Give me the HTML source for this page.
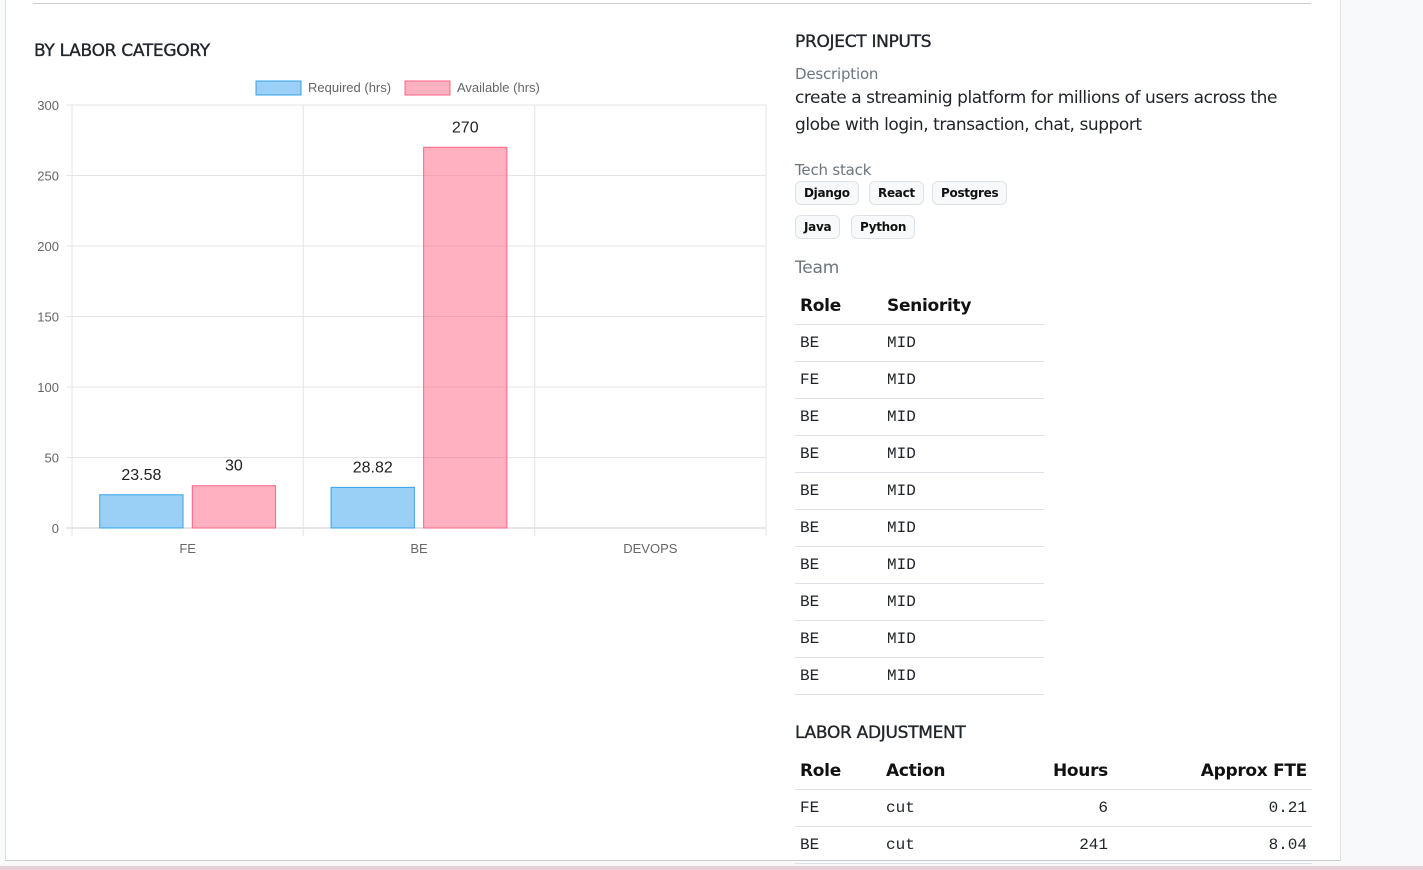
<!DOCTYPE html>
<html><head><meta charset="utf-8"><style>
body{margin:0;width:1423px;height:870px;overflow:hidden;background:#f8f9fa;font-family:"Liberation Sans",sans-serif;position:relative}
.page{position:absolute;left:5px;top:0;width:1334px;height:860px;background:#fff;border-left:1px solid #dee2e6;border-right:1px solid #dee2e6;border-bottom:1px solid #ccc}
.strip{position:absolute;left:0;top:866px;width:1423px;height:4px;background:#e8d0d8}
.topline{position:absolute;left:33px;top:3px;width:1278px;height:1px;background:#ccc}
.h{position:absolute;font-size:17px;color:#212529;font-family:"DejaVu Sans",sans-serif;letter-spacing:-0.3px;-webkit-text-stroke:0.35px #212529}
.lbl{position:absolute;font-size:15px;color:#6c757d;font-family:"DejaVu Sans",sans-serif;letter-spacing:-0.2px}
.txt{position:absolute;font-size:17px;color:#212529;font-family:"DejaVu Sans",sans-serif;line-height:27px;letter-spacing:-0.45px}
.badge{position:absolute;height:22px;line-height:22px;padding:0 8px;border:1px solid #dee2e6;border-radius:6px;background:#f8f9fa;font-size:12px;font-weight:bold;font-family:"DejaVu Sans",sans-serif;color:#111;letter-spacing:-0.3px}
table{position:absolute;border-collapse:collapse;font-family:"DejaVu Sans",sans-serif}
th{font-size:17px;text-align:left;padding:0 5px;height:37px;border-bottom:1px solid #dee2e6;color:#111;letter-spacing:-0.3px}
td{font-family:"Liberation Mono","DejaVu Sans Mono",monospace;font-size:16px;padding:0 5px;height:36px;border-bottom:1px solid #dee2e6;color:#212529}
.r{text-align:right}
</style></head><body>
<div class="page"></div>
<div class="strip"></div>
<div class="topline"></div>
<div class="h" style="left:34px;top:41px">BY LABOR CATEGORY</div>
<svg id="chart" style="position:absolute;left:0;top:0" width="780" height="570"></svg>

<div class="h" style="left:795px;top:32px">PROJECT INPUTS</div>
<div class="lbl" style="left:795px;top:65px">Description</div>
<div class="txt" style="left:795px;top:85px;width:500px">create a streaminig platform for millions of users across the globe with login, transaction, chat, support</div>
<div class="lbl" style="left:795px;top:161px">Tech stack</div>
<div class="badge" style="left:795px;top:181px">Django</div>
<div class="badge" style="left:869px;top:181px">React</div>
<div class="badge" style="left:932px;top:181px">Postgres</div>
<div class="badge" style="left:795px;top:215px">Java</div>
<div class="badge" style="left:851px;top:215px">Python</div>
<div class="lbl" style="left:795px;top:258px;font-size:17px">Team</div>
<table style="left:795px;top:287px;width:249px">
<tr><th style="width:77px">Role</th><th>Seniority</th></tr>
<tr><td>BE</td><td>MID</td></tr><tr><td>FE</td><td>MID</td></tr><tr><td>BE</td><td>MID</td></tr><tr><td>BE</td><td>MID</td></tr><tr><td>BE</td><td>MID</td></tr><tr><td>BE</td><td>MID</td></tr><tr><td>BE</td><td>MID</td></tr><tr><td>BE</td><td>MID</td></tr><tr><td>BE</td><td>MID</td></tr><tr><td>BE</td><td>MID</td></tr>
</table>
<div class="h" style="left:795px;top:723px">LABOR ADJUSTMENT</div>
<table style="left:795px;top:752px;width:517px">
<tr><th style="width:76px">Role</th><th style="width:120px">Action</th><th class="r" style="width:92px">Hours</th><th class="r">Approx FTE</th></tr>
<tr><td>FE</td><td>cut</td><td class="r">6</td><td class="r">0.21</td></tr>
<tr><td>BE</td><td>cut</td><td class="r">241</td><td class="r">8.04</td></tr>
</table>

<script>
const categories=["FE","BE","DEVOPS"];
const requiredHrs=[23.58,28.82,null];
const availableHrs=[30,270,null];
const yTicks=[0,50,100,150,200,250,300];
const svg=document.getElementById('chart');
const NS='http://www.w3.org/2000/svg';
const X0=72,X1=766,Y0=528,Y1=105,YMAX=300;
const y=v=>Y0-(v/YMAX)*(Y0-Y1);
const cw=(X1-X0)/categories.length;
const xc=i=>X0+cw*(i+0.5);
function mk(t,a,txt){const e=document.createElementNS(NS,t);for(const k in a)e.setAttribute(k,a[k]);if(txt!=null)e.textContent=txt;svg.appendChild(e);return e;}
yTicks.forEach(t=>{
 const l=mk('line',{x1:66,x2:X1,y1:y(t),y2:y(t),stroke:t===0?'#ccc':'#e5e5e5'});
 
 
 const tx=mk('text',{x:59,y:y(t)+5,'text-anchor':'end','font-size':13,fill:'#666','font-family':'Liberation Sans'},t);
 
 
});
for(let i=0;i<=categories.length;i++){
 const l=mk('line',{x1:X0+cw*i,x2:X0+cw*i,y1:Y1,y2:Y0+8,stroke:'#e5e5e5'});
 
 
}
const bw=cw*0.8/2*0.9;
categories.forEach((c,i)=>{
 const t=mk('text',{x:xc(i),y:553,'text-anchor':'middle','font-size':13,fill:'#666','font-family':'Liberation Sans'},c);
 
 
 [[requiredHrs,-1,'rgba(54,162,235,0.5)','rgb(54,162,235)','bar-required'],[availableHrs,1,'rgba(255,99,132,0.5)','rgb(255,99,132)','bar-available']].forEach(([arr,s,f,st,nm])=>{
  const v=arr[i]; if(v==null)return;
  const cx=xc(i)+s*cw*0.8/4;
  const r=mk('rect',{x:cx-bw/2,y:y(v),width:bw,height:Y0-y(v),fill:f,stroke:st,'stroke-width':1});
  
  
  const lb=mk('text',{x:cx,y:y(v)-15,'text-anchor':'middle','font-size':16,fill:'#222','font-family':'Liberation Sans'},v);
  
  
 });
});
const lg=[["Required (hrs)",256,'rgba(54,162,235,0.5)','rgb(54,162,235)'],["Available (hrs)",405,'rgba(255,99,132,0.5)','rgb(255,99,132)']];
lg.forEach(([n,x,f,s])=>{
 const r=mk('rect',{x:x,y:81,width:45,height:14,fill:f,stroke:s});
 
 
 const t=mk('text',{x:x+52,y:92,'font-size':13,fill:'#666','font-family':'Liberation Sans'},n);
 
 
});
</script>
</body></html>
